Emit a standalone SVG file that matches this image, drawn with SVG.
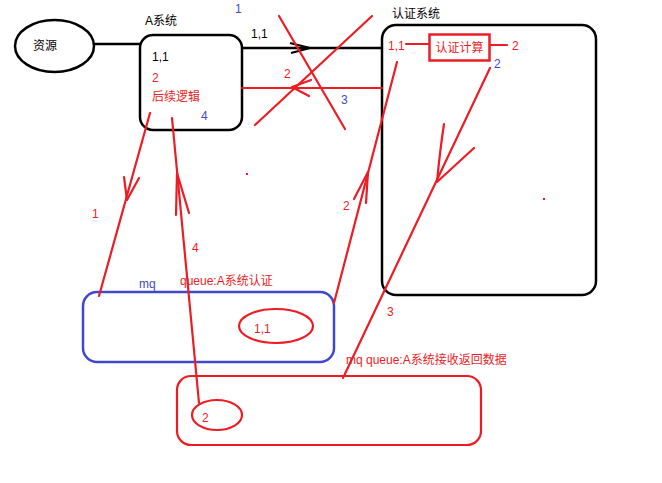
<svg xmlns="http://www.w3.org/2000/svg" width="662" height="483" viewBox="0 0 662 483">
<style>
text{font-family:"Liberation Sans","Noto Sans CJK SC",sans-serif;font-size:12px}
.k{fill:#000}.r{fill:#ed1c24}.b{fill:#3f48cc}
.bk{fill:none;stroke:#000;stroke-width:2.5}
.rd{fill:none;stroke:#ed1c24;stroke-width:2.2;stroke-linecap:round;stroke-linejoin:round}
.bl{fill:none;stroke:#3f48cc;stroke-width:2.5}
</style>
<rect width="662" height="483" fill="#fff"/>
<g id="source">
<ellipse class="bk" cx="54.5" cy="46" rx="39.5" ry="26"/>
<text class="k" x="33" y="50">资源</text>
</g>
<g id="systemA">
<rect class="bk" x="140" y="35" width="102" height="95" rx="13"/>
<text class="k" x="145" y="25">A系统</text>
<text class="k" x="152" y="61">1,1</text>
<text class="r" x="152" y="82">2</text>
<text class="r" x="152" y="101">后续逻辑</text>
<text class="b" x="201" y="120">4</text>
</g>
<g id="authSystem">
<rect class="bk" x="382" y="25" width="214" height="270" rx="14"/>
<text class="k" x="392" y="18">认证系统</text>
<text class="r" x="388" y="50">1,1</text>
<rect x="429.5" y="34.5" width="60" height="26" fill="none" stroke="#ed1c24" stroke-width="2.5"/>
<text class="r" x="459.5" y="52" text-anchor="middle">认证计算</text>
<text class="r" x="512" y="50">2</text>
<text class="b" x="494" y="68">2</text>
<rect x="543" y="198" width="2" height="2" fill="#ed1c24"/>
</g>
<g id="mqAuth">
<rect class="bl" x="83" y="292" width="251" height="70" rx="14"/>
<text class="b" x="139" y="288">mq</text>
<text class="r" x="180" y="285">queue:A系统认证</text>
<ellipse class="rd" cx="276" cy="326" rx="37" ry="17"/>
<text class="r" x="254" y="333">1,1</text>
</g>
<g id="mqReturn">
<rect class="rd" x="177" y="376" width="304" height="69" rx="14"/>
<text class="r" x="346" y="364">mq queue:A系统接收返回数据</text>
<ellipse class="rd" cx="217" cy="415" rx="25" ry="15"/>
<text class="r" x="202" y="422">2</text>
</g>
<g id="connectors">
<line x1="94" y1="44" x2="140" y2="44" stroke="#000" stroke-width="2.5"/>
<line x1="242" y1="48" x2="382" y2="48" stroke="#000" stroke-width="2.5"/>
<polyline points="290,43 310,48 291,53" fill="none" stroke="#000" stroke-width="2.2"/>
<text class="b" x="235" y="13">1</text>
<text class="k" x="251" y="38">1,1</text>
<line class="rd" x1="242" y1="88" x2="382" y2="88"/>
<polyline class="rd" points="311,80 292,87 309,96"/>
<text class="r" x="284" y="78">2</text>
<line class="rd" x1="279" y1="16" x2="345" y2="129"/>
<line class="rd" x1="372" y1="16" x2="255" y2="125"/>
<text class="b" x="341" y="104">3</text>
<line class="rd" x1="406" y1="44" x2="429" y2="44"/>
<line class="rd" x1="490" y1="45" x2="507" y2="45"/>
<line class="rd" x1="490" y1="68" x2="343" y2="378"/>
<path class="rd" d="M444,124 Q440,150 437,182 Q450,170 474,148"/>
<text class="r" x="387" y="316">3</text>
<line class="rd" x1="397" y1="62" x2="334" y2="303"/>
<polyline class="rd" points="354,199 368,172 366,203"/>
<text class="r" x="343" y="210">2</text>
<line class="rd" x1="150" y1="113" x2="99" y2="296"/>
<polyline class="rd" points="124,177 127,200 139,178"/>
<text class="r" x="92" y="218">1</text>
<line class="rd" x1="172" y1="118" x2="199" y2="403"/>
<polyline class="rd" points="176,215 177,173 189,213"/>
<text class="r" x="192" y="252">4</text>
<rect x="246" y="173" width="2" height="2" fill="#ed1c24"/>
</g>
</svg>
